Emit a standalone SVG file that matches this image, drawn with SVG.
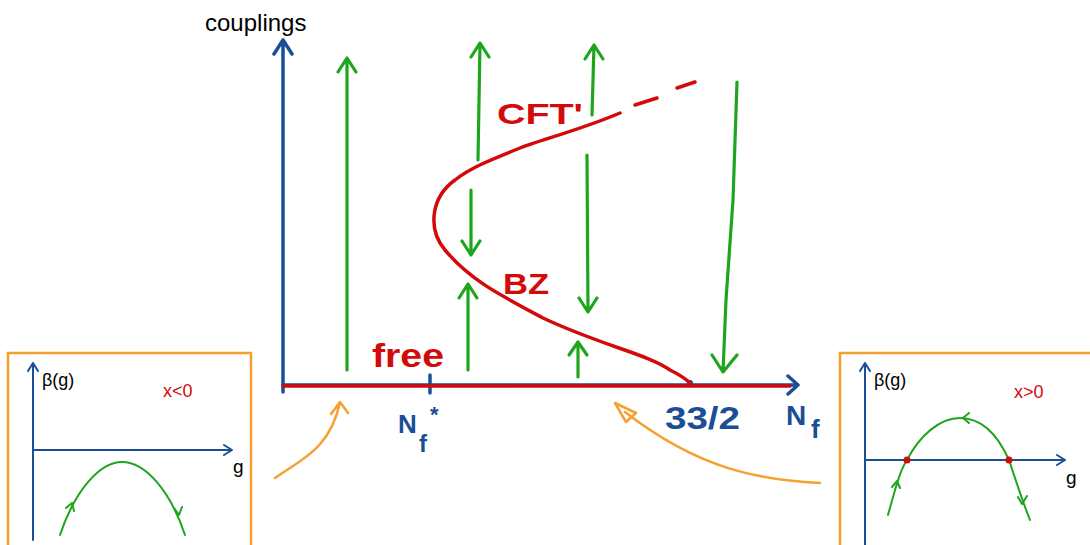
<svg xmlns="http://www.w3.org/2000/svg" width="1090" height="545" viewBox="0 0 1090 545">
<defs>
<style>
.ax{stroke:#1a4f95;stroke-width:3.5;fill:none;stroke-linecap:round;stroke-linejoin:round}
.axs{stroke:#1a4f95;stroke-width:2;fill:none;stroke-linecap:round;stroke-linejoin:round}
.gr{stroke:#1ea51e;stroke-width:3.2;fill:none;stroke-linecap:round;stroke-linejoin:round}
.grs{stroke:#1ea51e;stroke-width:2;fill:none;stroke-linecap:round;stroke-linejoin:round}
.rd{stroke:#d20a0a;stroke-width:3.5;fill:none;stroke-linecap:round;stroke-linejoin:round}
.or{stroke:#f5a030;stroke-width:2.5;fill:none;stroke-linecap:round;stroke-linejoin:round}
.box{stroke:#f5a030;stroke-width:2.5;fill:#fff}
.t{font-family:"Liberation Sans",Arial,sans-serif;font-weight:bold}
.s{font-family:"Liberation Sans",Arial,sans-serif}
</style>
</defs>
<rect width="1090" height="545" fill="#fff"/>

<g id="main-axes">
<path class="ax" d="M283,392 L283,40 M274,54 L283,40 L292,54"/>
<path class="ax" d="M283,385 L798,385 M788,376 L798,385 L788,394"/>
<path class="ax" d="M430,375 L430,393"/>
<circle cx="690" cy="383" r="3" fill="#1a4f95"/>
<text class="s" x="205" y="31" font-size="24" fill="#000">couplings</text>
</g>

<g id="free-line">
<path class="rd" d="M283,386 L790,386"/>
<text class="t" x="372" y="367" font-size="34" fill="#d20a0a" textLength="72" lengthAdjust="spacingAndGlyphs">free</text>
</g>

<g id="cft-curve">
<path class="rd" d="M620,113 C580,130 540,140 520,148 C490,160 470,168 455,180 C430,198 428,230 445,250 C470,280 500,295 543,318 C600,345 650,355 670,370 C680,375 687,380 690,383"/>
<path class="rd" d="M635,105 L657,98 M677,88 L695,82"/>
<text class="t" x="497" y="124" font-size="30" fill="#d20a0a" textLength="86" lengthAdjust="spacingAndGlyphs">CFT'</text>
<text class="t" x="503" y="294" font-size="30" fill="#d20a0a" textLength="46" lengthAdjust="spacingAndGlyphs">BZ</text>
</g>

<g id="flows">
<path class="gr" d="M347,370 L347,58 M338,72 L347,58 L356,72"/>
<path class="gr" d="M478,160 L480,43 M471,57 L480,43 L489,57"/>
<path class="gr" d="M471,190 L471,255 M462,241 L471,255 L480,241"/>
<path class="gr" d="M468,370 L468,284 M459,298 L468,284 L477,298"/>
<path class="gr" d="M592,115 L594,45 M585,59 L594,45 L603,59"/>
<path class="gr" d="M587,155 L588,312 M579,298 L588,312 L597,298"/>
<path class="gr" d="M578,377 L578,342 M569,355 L578,342 L587,355"/>
<path class="gr" d="M737,82 L733,200 L726,300 L723,372 M712,355 L723,372 L737,355"/>
</g>

<g id="axis-labels">
<text class="t" x="398" y="433" font-size="26" fill="#1a4f95">N</text>
<text class="t" x="419" y="452" font-size="24" fill="#1a4f95">f</text>
<text class="t" x="430" y="422" font-size="22" fill="#1a4f95">*</text>
<text class="t" x="665" y="429" font-size="32" fill="#1a4f95" textLength="75" lengthAdjust="spacingAndGlyphs">33/2</text>
<text class="t" x="786" y="425" font-size="28" fill="#1a4f95">N</text>
<text class="t" x="811" y="438" font-size="26" fill="#1a4f95">f</text>
</g>

<g id="pointers">
<path class="or" d="M275,478 C300,460 330,450 340,402 M331,414 L340,402 L348,413"/>
<path class="or" d="M820,483 C760,480 700,470 625,412 M615,403 L636,413 L626,422 Z"/>
</g>

<g id="inset-left">
<rect class="box" x="8" y="353" width="243" height="200"/>
<path class="axs" d="M33,540 L33,363 M28,371 L33,363 L38,371"/>
<path class="axs" d="M33,450 L232,450 M224,445 L232,450 L224,455"/>
<text class="s" x="42" y="386" font-size="18" fill="#000">β(g)</text>
<text class="s" x="163" y="397" font-size="18" fill="#d20a0a">x&lt;0</text>
<text class="s" x="233" y="473" font-size="19" fill="#000">g</text>
<path class="grs" d="M60,535 C75,490 100,462 122,462 C145,462 170,490 185,535"/>
<path class="grs" d="M66,508 L72,503 L74,511 M174,508 L179,515 L182,507"/>
</g>

<g id="inset-right">
<rect class="box" x="840" y="353" width="260" height="200"/>
<path class="axs" d="M865,545 L865,363 M860,371 L865,363 L870,371"/>
<path class="axs" d="M865,460 L1065,460 M1057,455 L1065,460 L1057,465"/>
<text class="s" x="874" y="386" font-size="18" fill="#000">β(g)</text>
<text class="s" x="1014" y="398" font-size="18" fill="#d20a0a">x&gt;0</text>
<text class="s" x="1066" y="484" font-size="19" fill="#000">g</text>
<path class="grs" d="M888,515 C895,490 900,470 907,460 C920,435 940,418 960,418 C985,418 1000,440 1009,460 C1015,478 1022,500 1030,520"/>
<path class="grs" d="M892,487 L897,481 L900,488 M969,413 L963,418 L969,423 M1018,497 L1022,504 L1027,496"/>
<circle cx="907" cy="460" r="3.5" fill="#d20a0a"/>
<circle cx="1009" cy="460" r="3.5" fill="#d20a0a"/>
</g>
</svg>
